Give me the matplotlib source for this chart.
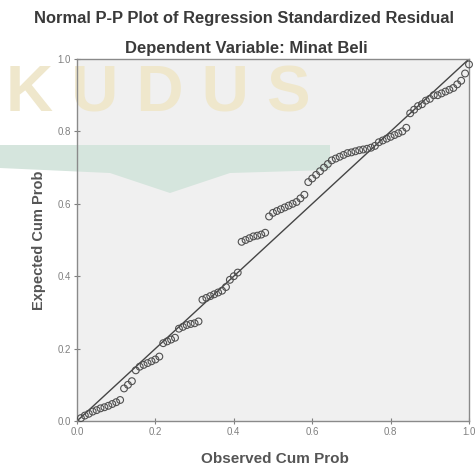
import matplotlib
matplotlib.use('Agg')
import matplotlib.pyplot as plt
from matplotlib.patches import Polygon

# --- DATEN ---

beobachtet = [
    0.01, 0.02, 0.03, 0.04, 0.05, 0.06, 0.07, 0.08, 0.09, 0.10,
    0.11, 0.12, 0.13, 0.14, 0.15, 0.16, 0.17, 0.18, 0.19, 0.20,
    0.21, 0.22, 0.23, 0.24, 0.25, 0.26, 0.27, 0.28, 0.29, 0.30,
    0.31, 0.32, 0.33, 0.34, 0.35, 0.36, 0.37, 0.38, 0.39, 0.40,
    0.41, 0.42, 0.43, 0.44, 0.45, 0.46, 0.47, 0.48, 0.49, 0.50,
    0.51, 0.52, 0.53, 0.54, 0.55, 0.56, 0.57, 0.58, 0.59, 0.60,
    0.61, 0.62, 0.63, 0.64, 0.65, 0.66, 0.67, 0.68, 0.69, 0.70,
    0.71, 0.72, 0.73, 0.74, 0.75, 0.76, 0.77, 0.78, 0.79, 0.80,
    0.81, 0.82, 0.83, 0.84, 0.85, 0.86, 0.87, 0.88, 0.89, 0.90,
    0.91, 0.92, 0.93, 0.94, 0.95, 0.96, 0.97, 0.98, 0.99, 1.00,
]
erwartet = [
    0.008, 0.015, 0.020, 0.026, 0.030, 0.035, 0.038, 0.042, 0.047, 0.052,
    0.058, 0.090, 0.100, 0.110, 0.140, 0.150, 0.155, 0.160, 0.165, 0.170,
    0.178, 0.215, 0.220, 0.225, 0.230, 0.255, 0.260, 0.265, 0.268, 0.270,
    0.275, 0.335, 0.340, 0.345, 0.350, 0.355, 0.360, 0.370, 0.390, 0.400,
    0.410, 0.495, 0.500, 0.505, 0.510, 0.512, 0.515, 0.520, 0.565, 0.575,
    0.580, 0.585, 0.590, 0.595, 0.600, 0.605, 0.615, 0.625, 0.660, 0.670,
    0.680, 0.690, 0.700, 0.710, 0.720, 0.725, 0.730, 0.735, 0.740, 0.742,
    0.745, 0.748, 0.750, 0.752, 0.755, 0.760, 0.770, 0.775, 0.780, 0.785,
    0.790, 0.795, 0.800, 0.810, 0.850, 0.860, 0.870, 0.875, 0.885, 0.890,
    0.900, 0.900, 0.905, 0.910, 0.915, 0.920, 0.930, 0.940, 0.960, 0.985,
]
achsen_ticks = [0.0, 0.2, 0.4, 0.6, 0.8, 1.0]
tick_labels = ['0.0', '0.2', '0.4', '0.6', '0.8', '1.0']

titel = 'Normal P-P Plot of Regression Standardized Residual'
untertitel = 'Dependent Variable: Minat Beli'
x_titel = 'Observed Cum Prob'
y_titel = 'Expected Cum Prob'

# --- GRAFIK ERSTELLEN ---

plt.rcParams['font.family'] = ['Liberation Sans', 'DejaVu Sans']

fig = plt.figure(figsize=(4.75, 4.66), dpi=100)
fig.patch.set_facecolor('white')
ax = fig.add_axes([77 / 475, 45 / 466, 392 / 475, 362 / 466])
ax.set_facecolor('#f0f0f0')

# Wasserzeichen im Hintergrund (blass)
ax.text(6 / 475, 1 - 95 / 466, 'K U D U S', transform=fig.transFigure,
        ha='left', va='center', fontsize=47, fontweight='bold',
        color='#efe7cc', zorder=0.5, clip_on=False)
band = [(0, 145), (330, 145), (330, 170), (230, 173), (170, 193), (110, 173), (0, 168)]
band = [(x / 475, 1 - y / 466) for x, y in band]
ax.add_patch(Polygon(band, closed=True, transform=fig.transFigure,
                     facecolor='#d5e5dd', edgecolor='none', zorder=0.6, clip_on=False))

# Diagonale und Punkte
ax.plot([0, 1], [0, 1], color='#454545', linewidth=1.0, zorder=2)
ax.scatter(beobachtet, erwartet, s=24, facecolors='none', edgecolors='#505050',
           linewidths=0.8, zorder=3, clip_on=False)

ax.set_xlim(0, 1)
ax.set_ylim(0, 1)
ax.set_xticks(achsen_ticks)
ax.set_xticklabels(tick_labels)
ax.set_yticks(achsen_ticks)
ax.set_yticklabels(tick_labels)
ax.tick_params(direction='inout', length=5, width=0.8, color='#808080',
               labelsize=7, labelcolor='#808080', pad=2)

for s in ax.spines.values():
    s.set_color('#8a8a8a')
    s.set_linewidth(1.0)

# Beschriftungen
fig.text(244 / 475, 1 - 23 / 466, titel, ha='center', va='baseline',
         fontsize=11.9, fontweight='bold', color='#3a3a3a')
fig.text(246 / 475, 1 - 53 / 466, untertitel, ha='center', va='baseline',
         fontsize=12, fontweight='bold', color='#3a3a3a')
fig.text(275 / 475, 1 - 463 / 466, x_titel, ha='center', va='baseline',
         fontsize=11, fontweight='bold', color='#555555')
fig.text(39 / 475, 1 - 240 / 466, y_titel, ha='center', va='center', rotation=90,
         fontsize=10.5, fontweight='bold', color='#555555')

plt.savefig('out.png', dpi=100)
